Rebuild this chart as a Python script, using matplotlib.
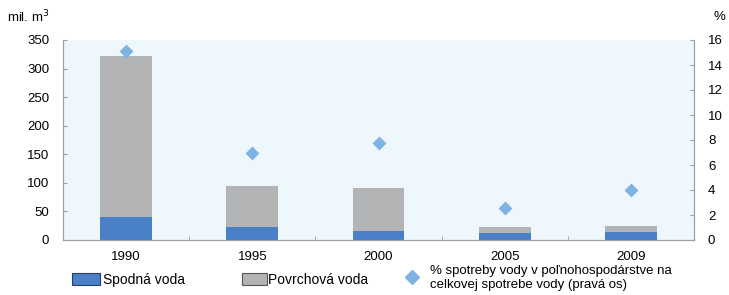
import matplotlib.pyplot as plt
import numpy as np
from matplotlib.patches import Patch
from matplotlib.lines import Line2D

plt.rcParams['font.family'] = ['Liberation Sans', 'DejaVu Sans']

years = ['1990', '1995', '2000', '2005', '2009']
spodna = [40, 22, 15, 13, 14]
povrchova = [282, 73, 76, 10, 11]
podiel = [15.1, 7.0, 7.8, 2.6, 4.0]

c_blue = '#4a80c8'
c_gray = '#b3b4b6'
c_dia = '#7fb3e3'
c_axis = '#a0a0a0'

fig = plt.figure(figsize=(7.29, 2.95), dpi=100)
ax1 = fig.add_axes([63/729, 1 - 240/295, 631/729, 200/295])
ax1.set_facecolor('#eef7fc')

x = np.arange(len(years))
w = 0.41
ax1.bar(x, spodna, w, color=c_blue, zorder=2)
ax1.bar(x, povrchova, w, bottom=spodna, color=c_gray, zorder=2)

ax1.set_xlim(-0.5, len(years) - 0.5)
ax1.set_ylim(0, 350)
ax1.set_yticks(range(0, 351, 50))
ax1.set_xticks(x)
ax1.set_xticklabels(years)
ax1.set_xticks(np.arange(0.5, len(years) - 1, 1), minor=True)
ax1.tick_params(axis='x', which='major', length=0, pad=8, labelsize=9.5)
ax1.tick_params(axis='x', which='minor', direction='in', length=3, color=c_axis)
ax1.tick_params(axis='y', direction='in', length=3, color=c_axis, labelsize=9.5, pad=10)

ax2 = ax1.twinx()
ax2.scatter(x, podiel, marker='D', s=50, color=c_dia, zorder=3, linewidths=0)
ax2.set_ylim(0, 16)
ax2.set_yticks(range(0, 17, 2))
ax2.tick_params(axis='y', direction='in', length=3, color=c_axis, labelsize=9.5, pad=10)

for a in (ax1, ax2):
    a.spines['top'].set_visible(False)
    for s in ('left', 'right', 'bottom'):
        a.spines[s].set_color(c_axis)
        a.spines[s].set_linewidth(0.8)

fig.text(7/729, 1 - 17/295, 'mil. m$^3$', fontsize=9.5, va='center')
fig.text(713/729, 1 - 17/295, '%', fontsize=9.5, va='center')

# legend items placed one by one (uneven spacing in the original)
leg_items = [
    (Patch(facecolor=c_blue, edgecolor='#2a3f66', linewidth=0.8), 'Spodná voda',
     72, 280, 2.0, 0.25, 10),
    (Patch(facecolor=c_gray, edgecolor='#555555', linewidth=0.8), 'Povrchová voda',
     242, 280, 1.8, 0.1, 10),
    (Line2D([], [], marker='D', color=c_dia, linestyle='None', markersize=7),
     '% spotreby vody v poľnohospodárstve na\ncelkovej spotrebe vody (pravá os)',
     405, 278, 1.05, 0.85, 9.5),
]
for h, lab, px, py, hl, tp, fs in leg_items:
    fig.legend([h], [lab], loc='center left', bbox_to_anchor=(px/729, 1 - py/295),
               frameon=False, fontsize=fs, handlelength=hl, handleheight=0.9,
               handletextpad=tp, borderaxespad=0, borderpad=0)

fig.savefig('out.png', dpi=100)
